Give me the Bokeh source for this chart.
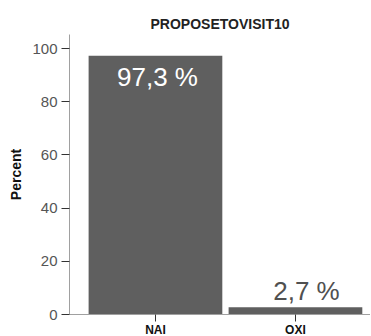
from bokeh.plotting import figure
from bokeh.models import ColumnDataSource, FixedTicker
from bokeh.core.properties import value
from bokeh.embed import file_html
from bokeh.resources import INLINE

# ---- data ----
title = "PROPOSETOVISIT10"
categories = ["NAI", "OXI"]
percents = [97.3, 2.7]
y_ticks = [0, 20, 40, 60, 80, 100]
y_label = "Percent"

xs = [i + 0.5 for i in range(len(categories))]
labels = [f"{v:.1f} %".replace(".", ",") for v in percents]
inside = [v > 50 for v in percents]
txt_colors = ["#ffffff" if f else "#505050" for f in inside]
y_off = [21 if f else -16 for f in inside]
x_off = [2 if f else 11 for f in inside]

src = ColumnDataSource(dict(x=xs, top=percents, label=labels, color=txt_colors,
                            yo=y_off, xo=x_off))

p = figure(width=370, height=339, output_backend="svg", toolbar_location=None,
           x_range=(-0.114, 2.036), y_range=(0, 105.3),
           min_border_left=69, min_border_right=0, min_border_top=34,
           min_border_bottom=0, title=title)
p.outline_line_color = None
p.grid.visible = False
p.background_fill_color = "white"

p.title.align = "center"
p.title.standoff = 5
p.title.text_font = "Liberation Sans"
p.title.text_font_size = "14px"
p.title.text_font_style = "bold"
p.title.text_color = "#222222"

p.vbar(x="x", top="top", width=0.955, source=src, fill_color="#5f5f5f",
       line_color=None)

p.text(x="x", y="top", text="label", text_color="color", x_offset="xo",
       y_offset="yo", text_align="center", text_baseline="alphabetic",
       text_font=value("Liberation Sans"), text_font_size="26px", source=src)

# x axis
xa = p.xaxis[0]
xa.ticker = FixedTicker(ticks=xs)
xa.major_label_overrides = {x: c for x, c in zip(xs, categories)}
xa.minor_tick_line_color = None
xa.major_tick_in = 0
xa.major_tick_out = 7
xa.major_tick_line_color = "#333333"
xa.axis_line_color = "#a0a0a0"
xa.major_label_standoff = 1
xa.major_label_text_font = "Liberation Sans"
xa.major_label_text_font_size = "12px"
xa.major_label_text_font_style = "bold"
xa.major_label_text_color = "#111111"

# y axis
ya = p.yaxis[0]
ya.ticker = FixedTicker(ticks=y_ticks)
ya.minor_tick_line_color = None
ya.major_tick_in = 0
ya.major_tick_out = 8
ya.major_tick_line_color = "#333333"
ya.axis_line_color = "#a0a0a0"
ya.major_label_standoff = 4
ya.major_label_text_font = "Liberation Sans"
ya.major_label_text_font_size = "15px"
ya.major_label_text_color = "#555555"
ya.axis_label = y_label
ya.axis_label_standoff = 5
ya.axis_label_text_font = "Liberation Sans"
ya.axis_label_text_font_size = "14px"
ya.axis_label_text_font_style = "bold"
ya.axis_label_text_color = "#111111"

open("out.html", "w").write(file_html(p, INLINE))
